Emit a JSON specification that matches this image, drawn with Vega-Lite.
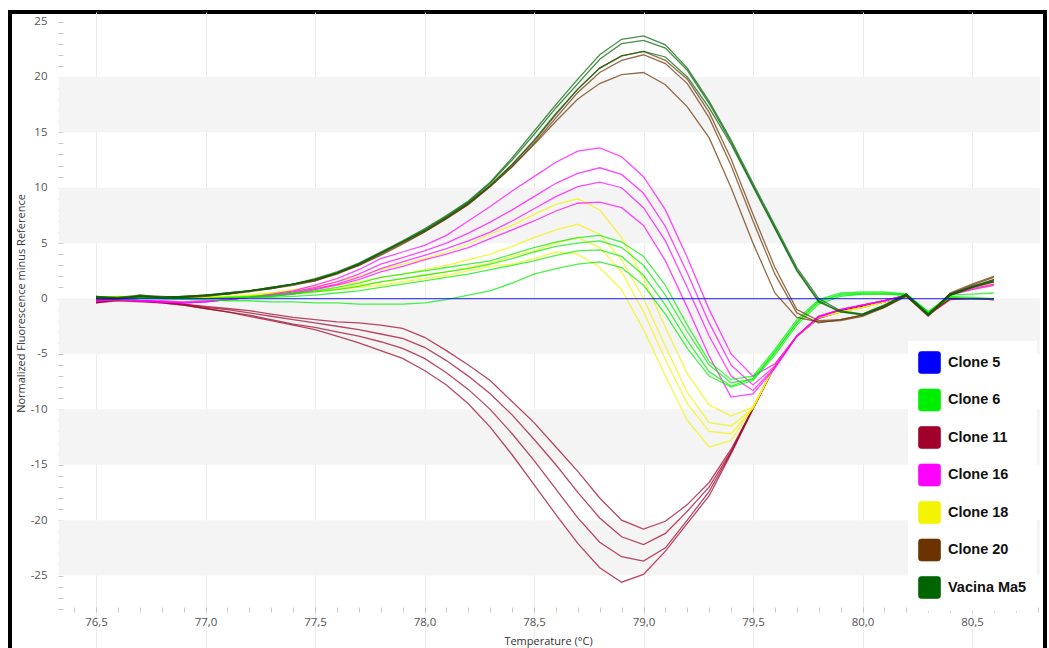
{
"$schema": "https://vega.github.io/schema/vega-lite/v6.json",
"width": 1035,
"height": 638,
"autosize": {"type": "none"},
"padding": {"left": 10, "top": 12, "right": 4, "bottom": 0},
"background": "white",
"config": {"view": {"fill": "white", "stroke": "black", "strokeWidth": 4}},
"datasets": {
"bands": [{"lo":15,"hi":20},{"lo":5,"hi":10},{"lo":-5,"hi":0},{"lo":-15,"hi":-10},{"lo":-25,"hi":-20}],
"curves": [{"c":"r1","g":"Clone 11"},{"c":"r2","g":"Clone 11"},{"c":"r3","g":"Clone 11"},{"c":"r4","g":"Clone 11"},{"c":"y1","g":"Clone 18"},{"c":"y2","g":"Clone 18"},{"c":"y3","g":"Clone 18"},{"c":"y4","g":"Clone 18"},{"c":"m1","g":"Clone 16"},{"c":"m2","g":"Clone 16"},{"c":"m3","g":"Clone 16"},{"c":"m4","g":"Clone 16"},{"c":"g1","g":"Clone 6"},{"c":"g2","g":"Clone 6"},{"c":"g3","g":"Clone 6"},{"c":"g4","g":"Clone 6"},{"c":"n1","g":"Clone 20"},{"c":"n2","g":"Clone 20"},{"c":"n3","g":"Clone 20"},{"c":"v1","g":"Vacina Ma5"},{"c":"v2","g":"Vacina Ma5"},{"c":"v3","g":"Vacina Ma5"},{"c":"b1","g":"Clone 5"}],
"melt": [
{"c":"r1","t":76.5,"v":-0.3},{"c":"r1","t":76.6,"v":-0.1},{"c":"r1","t":76.7,"v":-0.2},{"c":"r1","t":76.8,"v":-0.3},{"c":"r1","t":76.9,"v":-0.5},{"c":"r1","t":77,"v":-0.7},{"c":"r1","t":77.1,"v":-0.9},{"c":"r1","t":77.2,"v":-1.1},{"c":"r1","t":77.3,"v":-1.4},{"c":"r1","t":77.4,"v":-1.7},{"c":"r1","t":77.5,"v":-1.9},{"c":"r1","t":77.6,"v":-2.1},{"c":"r1","t":77.7,"v":-2.2},{"c":"r1","t":77.8,"v":-2.4},{"c":"r1","t":77.9,"v":-2.7},{"c":"r1","t":78,"v":-3.5},{"c":"r1","t":78.1,"v":-4.7},{"c":"r1","t":78.2,"v":-6},{"c":"r1","t":78.3,"v":-7.4},{"c":"r1","t":78.4,"v":-9.3},{"c":"r1","t":78.5,"v":-11.2},{"c":"r1","t":78.6,"v":-13.4},{"c":"r1","t":78.7,"v":-15.6},{"c":"r1","t":78.8,"v":-18},{"c":"r1","t":78.9,"v":-20},{"c":"r1","t":79,"v":-20.8},{"c":"r1","t":79.1,"v":-20.1},{"c":"r1","t":79.2,"v":-18.6},{"c":"r1","t":79.3,"v":-16.6},{"c":"r1","t":79.4,"v":-13.6},{"c":"r1","t":79.5,"v":-9.9},{"c":"r1","t":79.6,"v":-6},{"c":"r1","t":79.7,"v":-3.4},{"c":"r1","t":79.8,"v":-1.7},{"c":"r1","t":79.9,"v":-1.1},{"c":"r1","t":80,"v":-0.7},{"c":"r1","t":80.1,"v":-0.3},{"c":"r1","t":80.2,"v":0.3},{"c":"r1","t":80.3,"v":-1.4},{"c":"r1","t":80.4,"v":0},{"c":"r1","t":80.5,"v":0},{"c":"r1","t":80.6,"v":0},
{"c":"r2","t":76.5,"v":-0.4},{"c":"r2","t":76.6,"v":-0.1},{"c":"r2","t":76.7,"v":-0.2},{"c":"r2","t":76.8,"v":-0.3},{"c":"r2","t":76.9,"v":-0.5},{"c":"r2","t":77,"v":-0.8},{"c":"r2","t":77.1,"v":-1},{"c":"r2","t":77.2,"v":-1.3},{"c":"r2","t":77.3,"v":-1.6},{"c":"r2","t":77.4,"v":-1.9},{"c":"r2","t":77.5,"v":-2.2},{"c":"r2","t":77.6,"v":-2.5},{"c":"r2","t":77.7,"v":-2.8},{"c":"r2","t":77.8,"v":-3.2},{"c":"r2","t":77.9,"v":-3.6},{"c":"r2","t":78,"v":-4.4},{"c":"r2","t":78.1,"v":-5.6},{"c":"r2","t":78.2,"v":-7},{"c":"r2","t":78.3,"v":-8.6},{"c":"r2","t":78.4,"v":-10.5},{"c":"r2","t":78.5,"v":-12.7},{"c":"r2","t":78.6,"v":-15},{"c":"r2","t":78.7,"v":-17.5},{"c":"r2","t":78.8,"v":-19.8},{"c":"r2","t":78.9,"v":-21.5},{"c":"r2","t":79,"v":-22.2},{"c":"r2","t":79.1,"v":-21.2},{"c":"r2","t":79.2,"v":-19.2},{"c":"r2","t":79.3,"v":-17},{"c":"r2","t":79.4,"v":-13.8},{"c":"r2","t":79.5,"v":-9.9},{"c":"r2","t":79.6,"v":-6},{"c":"r2","t":79.7,"v":-3.4},{"c":"r2","t":79.8,"v":-1.7},{"c":"r2","t":79.9,"v":-1.1},{"c":"r2","t":80,"v":-0.7},{"c":"r2","t":80.1,"v":-0.3},{"c":"r2","t":80.2,"v":0.3},{"c":"r2","t":80.3,"v":-1.4},{"c":"r2","t":80.4,"v":0},{"c":"r2","t":80.5,"v":0},{"c":"r2","t":80.6,"v":-0.1},
{"c":"r3","t":76.5,"v":-0.3},{"c":"r3","t":76.6,"v":-0.1},{"c":"r3","t":76.7,"v":-0.2},{"c":"r3","t":76.8,"v":-0.4},{"c":"r3","t":76.9,"v":-0.6},{"c":"r3","t":77,"v":-0.9},{"c":"r3","t":77.1,"v":-1.2},{"c":"r3","t":77.2,"v":-1.5},{"c":"r3","t":77.3,"v":-1.9},{"c":"r3","t":77.4,"v":-2.3},{"c":"r3","t":77.5,"v":-2.6},{"c":"r3","t":77.6,"v":-3},{"c":"r3","t":77.7,"v":-3.4},{"c":"r3","t":77.8,"v":-3.9},{"c":"r3","t":77.9,"v":-4.5},{"c":"r3","t":78,"v":-5.4},{"c":"r3","t":78.1,"v":-6.7},{"c":"r3","t":78.2,"v":-8.2},{"c":"r3","t":78.3,"v":-10},{"c":"r3","t":78.4,"v":-12.2},{"c":"r3","t":78.5,"v":-14.6},{"c":"r3","t":78.6,"v":-17.2},{"c":"r3","t":78.7,"v":-19.8},{"c":"r3","t":78.8,"v":-22},{"c":"r3","t":78.9,"v":-23.3},{"c":"r3","t":79,"v":-23.7},{"c":"r3","t":79.1,"v":-22.5},{"c":"r3","t":79.2,"v":-20},{"c":"r3","t":79.3,"v":-17.4},{"c":"r3","t":79.4,"v":-13.9},{"c":"r3","t":79.5,"v":-9.9},{"c":"r3","t":79.6,"v":-6},{"c":"r3","t":79.7,"v":-3.4},{"c":"r3","t":79.8,"v":-1.7},{"c":"r3","t":79.9,"v":-1.1},{"c":"r3","t":80,"v":-0.7},{"c":"r3","t":80.1,"v":-0.3},{"c":"r3","t":80.2,"v":0.3},{"c":"r3","t":80.3,"v":-1.4},{"c":"r3","t":80.4,"v":0},{"c":"r3","t":80.5,"v":0},{"c":"r3","t":80.6,"v":-0.1},
{"c":"r4","t":76.5,"v":-0.4},{"c":"r4","t":76.6,"v":-0.2},{"c":"r4","t":76.7,"v":-0.3},{"c":"r4","t":76.8,"v":-0.4},{"c":"r4","t":76.9,"v":-0.6},{"c":"r4","t":77,"v":-0.9},{"c":"r4","t":77.1,"v":-1.2},{"c":"r4","t":77.2,"v":-1.6},{"c":"r4","t":77.3,"v":-2},{"c":"r4","t":77.4,"v":-2.4},{"c":"r4","t":77.5,"v":-2.8},{"c":"r4","t":77.6,"v":-3.4},{"c":"r4","t":77.7,"v":-4},{"c":"r4","t":77.8,"v":-4.7},{"c":"r4","t":77.9,"v":-5.4},{"c":"r4","t":78,"v":-6.5},{"c":"r4","t":78.1,"v":-7.8},{"c":"r4","t":78.2,"v":-9.5},{"c":"r4","t":78.3,"v":-11.6},{"c":"r4","t":78.4,"v":-14.1},{"c":"r4","t":78.5,"v":-16.8},{"c":"r4","t":78.6,"v":-19.5},{"c":"r4","t":78.7,"v":-22.1},{"c":"r4","t":78.8,"v":-24.3},{"c":"r4","t":78.9,"v":-25.6},{"c":"r4","t":79,"v":-24.9},{"c":"r4","t":79.1,"v":-22.8},{"c":"r4","t":79.2,"v":-20.3},{"c":"r4","t":79.3,"v":-17.8},{"c":"r4","t":79.4,"v":-14},{"c":"r4","t":79.5,"v":-10},{"c":"r4","t":79.6,"v":-6.1},{"c":"r4","t":79.7,"v":-3.4},{"c":"r4","t":79.8,"v":-1.8},{"c":"r4","t":79.9,"v":-1.2},{"c":"r4","t":80,"v":-0.8},{"c":"r4","t":80.1,"v":-0.3},{"c":"r4","t":80.2,"v":0.2},{"c":"r4","t":80.3,"v":-1.5},{"c":"r4","t":80.4,"v":-0.1},{"c":"r4","t":80.5,"v":0},{"c":"r4","t":80.6,"v":-0.1},
{"c":"y1","t":76.5,"v":0},{"c":"y1","t":76.6,"v":0.2},{"c":"y1","t":76.7,"v":0.1},{"c":"y1","t":76.8,"v":0},{"c":"y1","t":76.9,"v":0},{"c":"y1","t":77,"v":0.1},{"c":"y1","t":77.1,"v":0.2},{"c":"y1","t":77.2,"v":0.3},{"c":"y1","t":77.3,"v":0.5},{"c":"y1","t":77.4,"v":0.8},{"c":"y1","t":77.5,"v":1.1},{"c":"y1","t":77.6,"v":1.5},{"c":"y1","t":77.7,"v":2},{"c":"y1","t":77.8,"v":2.6},{"c":"y1","t":77.9,"v":3.1},{"c":"y1","t":78,"v":3.6},{"c":"y1","t":78.1,"v":4.2},{"c":"y1","t":78.2,"v":4.9},{"c":"y1","t":78.3,"v":5.8},{"c":"y1","t":78.4,"v":6.6},{"c":"y1","t":78.5,"v":7.6},{"c":"y1","t":78.6,"v":8.5},{"c":"y1","t":78.7,"v":9},{"c":"y1","t":78.8,"v":8},{"c":"y1","t":78.9,"v":5.5},{"c":"y1","t":79,"v":1.8},{"c":"y1","t":79.1,"v":-2.6},{"c":"y1","t":79.2,"v":-6.8},{"c":"y1","t":79.3,"v":-9.6},{"c":"y1","t":79.4,"v":-10.6},{"c":"y1","t":79.5,"v":-9.8},{"c":"y1","t":79.6,"v":-6},{"c":"y1","t":79.7,"v":-3.4},{"c":"y1","t":79.8,"v":-1.7},{"c":"y1","t":79.9,"v":-1.2},{"c":"y1","t":80,"v":-0.8},{"c":"y1","t":80.1,"v":-0.3},{"c":"y1","t":80.2,"v":0.3},{"c":"y1","t":80.3,"v":-1.4},{"c":"y1","t":80.4,"v":0.4},{"c":"y1","t":80.5,"v":1},{"c":"y1","t":80.6,"v":1.5},
{"c":"y2","t":76.5,"v":0.1},{"c":"y2","t":76.6,"v":0.2},{"c":"y2","t":76.7,"v":0.1},{"c":"y2","t":76.8,"v":0.1},{"c":"y2","t":76.9,"v":0.1},{"c":"y2","t":77,"v":0.1},{"c":"y2","t":77.1,"v":0.2},{"c":"y2","t":77.2,"v":0.3},{"c":"y2","t":77.3,"v":0.5},{"c":"y2","t":77.4,"v":0.7},{"c":"y2","t":77.5,"v":0.9},{"c":"y2","t":77.6,"v":1.2},{"c":"y2","t":77.7,"v":1.5},{"c":"y2","t":77.8,"v":1.9},{"c":"y2","t":77.9,"v":2.2},{"c":"y2","t":78,"v":2.6},{"c":"y2","t":78.1,"v":3},{"c":"y2","t":78.2,"v":3.5},{"c":"y2","t":78.3,"v":4},{"c":"y2","t":78.4,"v":4.7},{"c":"y2","t":78.5,"v":5.5},{"c":"y2","t":78.6,"v":6.2},{"c":"y2","t":78.7,"v":6.7},{"c":"y2","t":78.8,"v":5.8},{"c":"y2","t":78.9,"v":3.5},{"c":"y2","t":79,"v":0},{"c":"y2","t":79.1,"v":-4.3},{"c":"y2","t":79.2,"v":-8.5},{"c":"y2","t":79.3,"v":-11.2},{"c":"y2","t":79.4,"v":-11.5},{"c":"y2","t":79.5,"v":-9.9},{"c":"y2","t":79.6,"v":-6},{"c":"y2","t":79.7,"v":-3.4},{"c":"y2","t":79.8,"v":-1.7},{"c":"y2","t":79.9,"v":-1.2},{"c":"y2","t":80,"v":-0.8},{"c":"y2","t":80.1,"v":-0.3},{"c":"y2","t":80.2,"v":0.3},{"c":"y2","t":80.3,"v":-1.4},{"c":"y2","t":80.4,"v":0.4},{"c":"y2","t":80.5,"v":1.1},{"c":"y2","t":80.6,"v":1.6},
{"c":"y3","t":76.5,"v":0},{"c":"y3","t":76.6,"v":0.1},{"c":"y3","t":76.7,"v":0.1},{"c":"y3","t":76.8,"v":0},{"c":"y3","t":76.9,"v":0.1},{"c":"y3","t":77,"v":0.1},{"c":"y3","t":77.1,"v":0.1},{"c":"y3","t":77.2,"v":0.2},{"c":"y3","t":77.3,"v":0.4},{"c":"y3","t":77.4,"v":0.5},{"c":"y3","t":77.5,"v":0.7},{"c":"y3","t":77.6,"v":0.9},{"c":"y3","t":77.7,"v":1.2},{"c":"y3","t":77.8,"v":1.5},{"c":"y3","t":77.9,"v":1.8},{"c":"y3","t":78,"v":2.1},{"c":"y3","t":78.1,"v":2.4},{"c":"y3","t":78.2,"v":2.8},{"c":"y3","t":78.3,"v":3.2},{"c":"y3","t":78.4,"v":3.8},{"c":"y3","t":78.5,"v":4.3},{"c":"y3","t":78.6,"v":5},{"c":"y3","t":78.7,"v":5.5},{"c":"y3","t":78.8,"v":4.6},{"c":"y3","t":78.9,"v":2.4},{"c":"y3","t":79,"v":-1.2},{"c":"y3","t":79.1,"v":-5.5},{"c":"y3","t":79.2,"v":-9.5},{"c":"y3","t":79.3,"v":-12},{"c":"y3","t":79.4,"v":-12.2},{"c":"y3","t":79.5,"v":-9.9},{"c":"y3","t":79.6,"v":-6},{"c":"y3","t":79.7,"v":-3.4},{"c":"y3","t":79.8,"v":-1.7},{"c":"y3","t":79.9,"v":-1.2},{"c":"y3","t":80,"v":-0.8},{"c":"y3","t":80.1,"v":-0.3},{"c":"y3","t":80.2,"v":0.3},{"c":"y3","t":80.3,"v":-1.4},{"c":"y3","t":80.4,"v":0.3},{"c":"y3","t":80.5,"v":0.9},{"c":"y3","t":80.6,"v":1.4},
{"c":"y4","t":76.5,"v":0.1},{"c":"y4","t":76.6,"v":0.1},{"c":"y4","t":76.7,"v":0},{"c":"y4","t":76.8,"v":0},{"c":"y4","t":76.9,"v":0},{"c":"y4","t":77,"v":0.1},{"c":"y4","t":77.1,"v":0.1},{"c":"y4","t":77.2,"v":0.2},{"c":"y4","t":77.3,"v":0.3},{"c":"y4","t":77.4,"v":0.4},{"c":"y4","t":77.5,"v":0.6},{"c":"y4","t":77.6,"v":0.8},{"c":"y4","t":77.7,"v":1},{"c":"y4","t":77.8,"v":1.2},{"c":"y4","t":77.9,"v":1.5},{"c":"y4","t":78,"v":1.8},{"c":"y4","t":78.1,"v":2.1},{"c":"y4","t":78.2,"v":2.5},{"c":"y4","t":78.3,"v":2.9},{"c":"y4","t":78.4,"v":3.1},{"c":"y4","t":78.5,"v":3.6},{"c":"y4","t":78.6,"v":4.2},{"c":"y4","t":78.7,"v":4},{"c":"y4","t":78.8,"v":2.8},{"c":"y4","t":78.9,"v":0.8},{"c":"y4","t":79,"v":-2.8},{"c":"y4","t":79.1,"v":-7},{"c":"y4","t":79.2,"v":-11},{"c":"y4","t":79.3,"v":-13.4},{"c":"y4","t":79.4,"v":-12.8},{"c":"y4","t":79.5,"v":-9.8},{"c":"y4","t":79.6,"v":-6},{"c":"y4","t":79.7,"v":-3.4},{"c":"y4","t":79.8,"v":-1.7},{"c":"y4","t":79.9,"v":-1.2},{"c":"y4","t":80,"v":-0.8},{"c":"y4","t":80.1,"v":-0.3},{"c":"y4","t":80.2,"v":0.3},{"c":"y4","t":80.3,"v":-1.4},{"c":"y4","t":80.4,"v":0.3},{"c":"y4","t":80.5,"v":0.8},{"c":"y4","t":80.6,"v":1.2},
{"c":"m1","t":76.5,"v":-0.2},{"c":"m1","t":76.6,"v":-0.1},{"c":"m1","t":76.7,"v":-0.2},{"c":"m1","t":76.8,"v":-0.3},{"c":"m1","t":76.9,"v":-0.4},{"c":"m1","t":77,"v":-0.3},{"c":"m1","t":77.1,"v":-0.1},{"c":"m1","t":77.2,"v":0.1},{"c":"m1","t":77.3,"v":0.4},{"c":"m1","t":77.4,"v":0.7},{"c":"m1","t":77.5,"v":1.2},{"c":"m1","t":77.6,"v":1.8},{"c":"m1","t":77.7,"v":2.6},{"c":"m1","t":77.8,"v":3.6},{"c":"m1","t":77.9,"v":4.2},{"c":"m1","t":78,"v":4.8},{"c":"m1","t":78.1,"v":5.7},{"c":"m1","t":78.2,"v":7},{"c":"m1","t":78.3,"v":8.3},{"c":"m1","t":78.4,"v":9.7},{"c":"m1","t":78.5,"v":11},{"c":"m1","t":78.6,"v":12.3},{"c":"m1","t":78.7,"v":13.3},{"c":"m1","t":78.8,"v":13.6},{"c":"m1","t":78.9,"v":12.8},{"c":"m1","t":79,"v":11},{"c":"m1","t":79.1,"v":8},{"c":"m1","t":79.2,"v":3.7},{"c":"m1","t":79.3,"v":-1},{"c":"m1","t":79.4,"v":-5},{"c":"m1","t":79.5,"v":-7},{"c":"m1","t":79.6,"v":-5.9},{"c":"m1","t":79.7,"v":-3.4},{"c":"m1","t":79.8,"v":-1.6},{"c":"m1","t":79.9,"v":-1},{"c":"m1","t":80,"v":-0.6},{"c":"m1","t":80.1,"v":-0.2},{"c":"m1","t":80.2,"v":0.3},{"c":"m1","t":80.3,"v":-1.4},{"c":"m1","t":80.4,"v":0.4},{"c":"m1","t":80.5,"v":1},{"c":"m1","t":80.6,"v":1.5},
{"c":"m2","t":76.5,"v":-0.2},{"c":"m2","t":76.6,"v":-0.1},{"c":"m2","t":76.7,"v":-0.2},{"c":"m2","t":76.8,"v":-0.3},{"c":"m2","t":76.9,"v":-0.4},{"c":"m2","t":77,"v":-0.3},{"c":"m2","t":77.1,"v":-0.1},{"c":"m2","t":77.2,"v":0.1},{"c":"m2","t":77.3,"v":0.3},{"c":"m2","t":77.4,"v":0.6},{"c":"m2","t":77.5,"v":1},{"c":"m2","t":77.6,"v":1.5},{"c":"m2","t":77.7,"v":2.2},{"c":"m2","t":77.8,"v":3.1},{"c":"m2","t":77.9,"v":3.7},{"c":"m2","t":78,"v":4.3},{"c":"m2","t":78.1,"v":5},{"c":"m2","t":78.2,"v":5.9},{"c":"m2","t":78.3,"v":6.9},{"c":"m2","t":78.4,"v":8},{"c":"m2","t":78.5,"v":9.2},{"c":"m2","t":78.6,"v":10.4},{"c":"m2","t":78.7,"v":11.3},{"c":"m2","t":78.8,"v":11.8},{"c":"m2","t":78.9,"v":11.2},{"c":"m2","t":79,"v":9.5},{"c":"m2","t":79.1,"v":6.5},{"c":"m2","t":79.2,"v":2.3},{"c":"m2","t":79.3,"v":-2.2},{"c":"m2","t":79.4,"v":-6},{"c":"m2","t":79.5,"v":-7.8},{"c":"m2","t":79.6,"v":-6.1},{"c":"m2","t":79.7,"v":-3.4},{"c":"m2","t":79.8,"v":-1.6},{"c":"m2","t":79.9,"v":-1},{"c":"m2","t":80,"v":-0.6},{"c":"m2","t":80.1,"v":-0.2},{"c":"m2","t":80.2,"v":0.3},{"c":"m2","t":80.3,"v":-1.4},{"c":"m2","t":80.4,"v":0.4},{"c":"m2","t":80.5,"v":1.1},{"c":"m2","t":80.6,"v":1.6},
{"c":"m3","t":76.5,"v":-0.1},{"c":"m3","t":76.6,"v":-0.1},{"c":"m3","t":76.7,"v":-0.2},{"c":"m3","t":76.8,"v":-0.3},{"c":"m3","t":76.9,"v":-0.4},{"c":"m3","t":77,"v":-0.3},{"c":"m3","t":77.1,"v":-0.1},{"c":"m3","t":77.2,"v":0.1},{"c":"m3","t":77.3,"v":0.3},{"c":"m3","t":77.4,"v":0.5},{"c":"m3","t":77.5,"v":0.9},{"c":"m3","t":77.6,"v":1.3},{"c":"m3","t":77.7,"v":1.9},{"c":"m3","t":77.8,"v":2.7},{"c":"m3","t":77.9,"v":3.3},{"c":"m3","t":78,"v":3.9},{"c":"m3","t":78.1,"v":4.5},{"c":"m3","t":78.2,"v":5.2},{"c":"m3","t":78.3,"v":6},{"c":"m3","t":78.4,"v":7},{"c":"m3","t":78.5,"v":8.1},{"c":"m3","t":78.6,"v":9.2},{"c":"m3","t":78.7,"v":10.1},{"c":"m3","t":78.8,"v":10.5},{"c":"m3","t":78.9,"v":10},{"c":"m3","t":79,"v":8.2},{"c":"m3","t":79.1,"v":5.2},{"c":"m3","t":79.2,"v":1},{"c":"m3","t":79.3,"v":-3.4},{"c":"m3","t":79.4,"v":-7},{"c":"m3","t":79.5,"v":-8.3},{"c":"m3","t":79.6,"v":-6.2},{"c":"m3","t":79.7,"v":-3.4},{"c":"m3","t":79.8,"v":-1.6},{"c":"m3","t":79.9,"v":-1},{"c":"m3","t":80,"v":-0.6},{"c":"m3","t":80.1,"v":-0.2},{"c":"m3","t":80.2,"v":0.3},{"c":"m3","t":80.3,"v":-1.4},{"c":"m3","t":80.4,"v":0.3},{"c":"m3","t":80.5,"v":0.9},{"c":"m3","t":80.6,"v":1.3},
{"c":"m4","t":76.5,"v":-0.2},{"c":"m4","t":76.6,"v":-0.1},{"c":"m4","t":76.7,"v":-0.2},{"c":"m4","t":76.8,"v":-0.2},{"c":"m4","t":76.9,"v":-0.3},{"c":"m4","t":77,"v":-0.2},{"c":"m4","t":77.1,"v":-0.1},{"c":"m4","t":77.2,"v":0.1},{"c":"m4","t":77.3,"v":0.2},{"c":"m4","t":77.4,"v":0.4},{"c":"m4","t":77.5,"v":0.8},{"c":"m4","t":77.6,"v":1.2},{"c":"m4","t":77.7,"v":1.7},{"c":"m4","t":77.8,"v":2.4},{"c":"m4","t":77.9,"v":2.9},{"c":"m4","t":78,"v":3.5},{"c":"m4","t":78.1,"v":4},{"c":"m4","t":78.2,"v":4.6},{"c":"m4","t":78.3,"v":5.4},{"c":"m4","t":78.4,"v":6.2},{"c":"m4","t":78.5,"v":7},{"c":"m4","t":78.6,"v":7.9},{"c":"m4","t":78.7,"v":8.6},{"c":"m4","t":78.8,"v":8.7},{"c":"m4","t":78.9,"v":8.2},{"c":"m4","t":79,"v":6.6},{"c":"m4","t":79.1,"v":3.4},{"c":"m4","t":79.2,"v":-0.8},{"c":"m4","t":79.3,"v":-5.2},{"c":"m4","t":79.4,"v":-8.9},{"c":"m4","t":79.5,"v":-8.6},{"c":"m4","t":79.6,"v":-6.3},{"c":"m4","t":79.7,"v":-3.4},{"c":"m4","t":79.8,"v":-1.7},{"c":"m4","t":79.9,"v":-1},{"c":"m4","t":80,"v":-0.6},{"c":"m4","t":80.1,"v":-0.2},{"c":"m4","t":80.2,"v":0.3},{"c":"m4","t":80.3,"v":-1.4},{"c":"m4","t":80.4,"v":0.3},{"c":"m4","t":80.5,"v":0.8},{"c":"m4","t":80.6,"v":1.2},
{"c":"g1","t":76.5,"v":0.2},{"c":"g1","t":76.6,"v":0},{"c":"g1","t":76.7,"v":0.1},{"c":"g1","t":76.8,"v":0},{"c":"g1","t":76.9,"v":0},{"c":"g1","t":77,"v":0},{"c":"g1","t":77.1,"v":0.1},{"c":"g1","t":77.2,"v":0.2},{"c":"g1","t":77.3,"v":0.3},{"c":"g1","t":77.4,"v":0.5},{"c":"g1","t":77.5,"v":0.7},{"c":"g1","t":77.6,"v":1},{"c":"g1","t":77.7,"v":1.4},{"c":"g1","t":77.8,"v":1.9},{"c":"g1","t":77.9,"v":2.2},{"c":"g1","t":78,"v":2.5},{"c":"g1","t":78.1,"v":2.8},{"c":"g1","t":78.2,"v":3.1},{"c":"g1","t":78.3,"v":3.4},{"c":"g1","t":78.4,"v":4},{"c":"g1","t":78.5,"v":4.6},{"c":"g1","t":78.6,"v":5.1},{"c":"g1","t":78.7,"v":5.5},{"c":"g1","t":78.8,"v":5.7},{"c":"g1","t":78.9,"v":5.1},{"c":"g1","t":79,"v":3.8},{"c":"g1","t":79.1,"v":1.2},{"c":"g1","t":79.2,"v":-2.4},{"c":"g1","t":79.3,"v":-5.7},{"c":"g1","t":79.4,"v":-7.3},{"c":"g1","t":79.5,"v":-7},{"c":"g1","t":79.6,"v":-4.6},{"c":"g1","t":79.7,"v":-1.9},{"c":"g1","t":79.8,"v":-0.1},{"c":"g1","t":79.9,"v":0.5},{"c":"g1","t":80,"v":0.6},{"c":"g1","t":80.1,"v":0.6},{"c":"g1","t":80.2,"v":0.4},{"c":"g1","t":80.3,"v":-1.2},{"c":"g1","t":80.4,"v":0.2},{"c":"g1","t":80.5,"v":0.1},{"c":"g1","t":80.6,"v":0},
{"c":"g2","t":76.5,"v":0.1},{"c":"g2","t":76.6,"v":0},{"c":"g2","t":76.7,"v":0.1},{"c":"g2","t":76.8,"v":0},{"c":"g2","t":76.9,"v":0},{"c":"g2","t":77,"v":0},{"c":"g2","t":77.1,"v":0.1},{"c":"g2","t":77.2,"v":0.1},{"c":"g2","t":77.3,"v":0.2},{"c":"g2","t":77.4,"v":0.4},{"c":"g2","t":77.5,"v":0.6},{"c":"g2","t":77.6,"v":0.8},{"c":"g2","t":77.7,"v":1.1},{"c":"g2","t":77.8,"v":1.5},{"c":"g2","t":77.9,"v":1.8},{"c":"g2","t":78,"v":2.1},{"c":"g2","t":78.1,"v":2.4},{"c":"g2","t":78.2,"v":2.7},{"c":"g2","t":78.3,"v":3.1},{"c":"g2","t":78.4,"v":3.6},{"c":"g2","t":78.5,"v":4.2},{"c":"g2","t":78.6,"v":4.7},{"c":"g2","t":78.7,"v":5},{"c":"g2","t":78.8,"v":5.2},{"c":"g2","t":78.9,"v":4.6},{"c":"g2","t":79,"v":3},{"c":"g2","t":79.1,"v":0.3},{"c":"g2","t":79.2,"v":-3},{"c":"g2","t":79.3,"v":-6},{"c":"g2","t":79.4,"v":-7.6},{"c":"g2","t":79.5,"v":-7.3},{"c":"g2","t":79.6,"v":-4.9},{"c":"g2","t":79.7,"v":-2.1},{"c":"g2","t":79.8,"v":-0.2},{"c":"g2","t":79.9,"v":0.4},{"c":"g2","t":80,"v":0.5},{"c":"g2","t":80.1,"v":0.5},{"c":"g2","t":80.2,"v":0.4},{"c":"g2","t":80.3,"v":-1.2},{"c":"g2","t":80.4,"v":0.3},{"c":"g2","t":80.5,"v":0.4},{"c":"g2","t":80.6,"v":0.5},
{"c":"g3","t":76.5,"v":0.1},{"c":"g3","t":76.6,"v":0},{"c":"g3","t":76.7,"v":0},{"c":"g3","t":76.8,"v":0},{"c":"g3","t":76.9,"v":0},{"c":"g3","t":77,"v":0},{"c":"g3","t":77.1,"v":0},{"c":"g3","t":77.2,"v":0.1},{"c":"g3","t":77.3,"v":0.1},{"c":"g3","t":77.4,"v":0.2},{"c":"g3","t":77.5,"v":0.3},{"c":"g3","t":77.6,"v":0.5},{"c":"g3","t":77.7,"v":0.7},{"c":"g3","t":77.8,"v":1},{"c":"g3","t":77.9,"v":1.3},{"c":"g3","t":78,"v":1.6},{"c":"g3","t":78.1,"v":1.9},{"c":"g3","t":78.2,"v":2.2},{"c":"g3","t":78.3,"v":2.6},{"c":"g3","t":78.4,"v":3},{"c":"g3","t":78.5,"v":3.4},{"c":"g3","t":78.6,"v":3.9},{"c":"g3","t":78.7,"v":4.3},{"c":"g3","t":78.8,"v":4.4},{"c":"g3","t":78.9,"v":3.8},{"c":"g3","t":79,"v":2.1},{"c":"g3","t":79.1,"v":-0.6},{"c":"g3","t":79.2,"v":-3.8},{"c":"g3","t":79.3,"v":-6.6},{"c":"g3","t":79.4,"v":-7.9},{"c":"g3","t":79.5,"v":-7.2},{"c":"g3","t":79.6,"v":-4.8},{"c":"g3","t":79.7,"v":-2.2},{"c":"g3","t":79.8,"v":-0.3},{"c":"g3","t":79.9,"v":0.3},{"c":"g3","t":80,"v":0.4},{"c":"g3","t":80.1,"v":0.4},{"c":"g3","t":80.2,"v":0.3},{"c":"g3","t":80.3,"v":-1.3},{"c":"g3","t":80.4,"v":0.1},{"c":"g3","t":80.5,"v":0},{"c":"g3","t":80.6,"v":0},
{"c":"g4","t":76.5,"v":0.1},{"c":"g4","t":76.6,"v":0},{"c":"g4","t":76.7,"v":0},{"c":"g4","t":76.8,"v":0},{"c":"g4","t":76.9,"v":-0.1},{"c":"g4","t":77,"v":-0.1},{"c":"g4","t":77.1,"v":-0.2},{"c":"g4","t":77.2,"v":-0.2},{"c":"g4","t":77.3,"v":-0.3},{"c":"g4","t":77.4,"v":-0.3},{"c":"g4","t":77.5,"v":-0.4},{"c":"g4","t":77.6,"v":-0.4},{"c":"g4","t":77.7,"v":-0.5},{"c":"g4","t":77.8,"v":-0.5},{"c":"g4","t":77.9,"v":-0.5},{"c":"g4","t":78,"v":-0.4},{"c":"g4","t":78.1,"v":-0.1},{"c":"g4","t":78.2,"v":0.3},{"c":"g4","t":78.3,"v":0.7},{"c":"g4","t":78.4,"v":1.4},{"c":"g4","t":78.5,"v":2.2},{"c":"g4","t":78.6,"v":2.7},{"c":"g4","t":78.7,"v":3.1},{"c":"g4","t":78.8,"v":3.3},{"c":"g4","t":78.9,"v":2.8},{"c":"g4","t":79,"v":1.2},{"c":"g4","t":79.1,"v":-1.4},{"c":"g4","t":79.2,"v":-4.5},{"c":"g4","t":79.3,"v":-7},{"c":"g4","t":79.4,"v":-8},{"c":"g4","t":79.5,"v":-7.4},{"c":"g4","t":79.6,"v":-5.1},{"c":"g4","t":79.7,"v":-2.4},{"c":"g4","t":79.8,"v":-0.5},{"c":"g4","t":79.9,"v":0.2},{"c":"g4","t":80,"v":0.4},{"c":"g4","t":80.1,"v":0.4},{"c":"g4","t":80.2,"v":0.3},{"c":"g4","t":80.3,"v":-1.3},{"c":"g4","t":80.4,"v":0.1},{"c":"g4","t":80.5,"v":0},{"c":"g4","t":80.6,"v":0},
{"c":"n1","t":76.5,"v":0},{"c":"n1","t":76.6,"v":-0.1},{"c":"n1","t":76.7,"v":0.3},{"c":"n1","t":76.8,"v":0.2},{"c":"n1","t":76.9,"v":0.1},{"c":"n1","t":77,"v":0.2},{"c":"n1","t":77.1,"v":0.5},{"c":"n1","t":77.2,"v":0.7},{"c":"n1","t":77.3,"v":1},{"c":"n1","t":77.4,"v":1.3},{"c":"n1","t":77.5,"v":1.7},{"c":"n1","t":77.6,"v":2.3},{"c":"n1","t":77.7,"v":3.1},{"c":"n1","t":77.8,"v":4.1},{"c":"n1","t":77.9,"v":5.1},{"c":"n1","t":78,"v":6.1},{"c":"n1","t":78.1,"v":7.3},{"c":"n1","t":78.2,"v":8.6},{"c":"n1","t":78.3,"v":10.2},{"c":"n1","t":78.4,"v":12.1},{"c":"n1","t":78.5,"v":14.2},{"c":"n1","t":78.6,"v":16.6},{"c":"n1","t":78.7,"v":18.9},{"c":"n1","t":78.8,"v":20.8},{"c":"n1","t":78.9,"v":21.9},{"c":"n1","t":79,"v":22.3},{"c":"n1","t":79.1,"v":21.5},{"c":"n1","t":79.2,"v":19.8},{"c":"n1","t":79.3,"v":16.8},{"c":"n1","t":79.4,"v":12.6},{"c":"n1","t":79.5,"v":7.6},{"c":"n1","t":79.6,"v":2.8},{"c":"n1","t":79.7,"v":-1},{"c":"n1","t":79.8,"v":-2},{"c":"n1","t":79.9,"v":-1.9},{"c":"n1","t":80,"v":-1.5},{"c":"n1","t":80.1,"v":-0.7},{"c":"n1","t":80.2,"v":0.3},{"c":"n1","t":80.3,"v":-1.5},{"c":"n1","t":80.4,"v":0.5},{"c":"n1","t":80.5,"v":1.3},{"c":"n1","t":80.6,"v":2},
{"c":"n2","t":76.5,"v":0.1},{"c":"n2","t":76.6,"v":0},{"c":"n2","t":76.7,"v":0.2},{"c":"n2","t":76.8,"v":0.1},{"c":"n2","t":76.9,"v":0.2},{"c":"n2","t":77,"v":0.3},{"c":"n2","t":77.1,"v":0.4},{"c":"n2","t":77.2,"v":0.7},{"c":"n2","t":77.3,"v":0.9},{"c":"n2","t":77.4,"v":1.3},{"c":"n2","t":77.5,"v":1.6},{"c":"n2","t":77.6,"v":2.3},{"c":"n2","t":77.7,"v":3},{"c":"n2","t":77.8,"v":4},{"c":"n2","t":77.9,"v":5},{"c":"n2","t":78,"v":6},{"c":"n2","t":78.1,"v":7.2},{"c":"n2","t":78.2,"v":8.5},{"c":"n2","t":78.3,"v":10.1},{"c":"n2","t":78.4,"v":11.9},{"c":"n2","t":78.5,"v":14},{"c":"n2","t":78.6,"v":16.3},{"c":"n2","t":78.7,"v":18.6},{"c":"n2","t":78.8,"v":20.4},{"c":"n2","t":78.9,"v":21.5},{"c":"n2","t":79,"v":22},{"c":"n2","t":79.1,"v":21.2},{"c":"n2","t":79.2,"v":19.4},{"c":"n2","t":79.3,"v":16.3},{"c":"n2","t":79.4,"v":12},{"c":"n2","t":79.5,"v":7},{"c":"n2","t":79.6,"v":2.2},{"c":"n2","t":79.7,"v":-1.3},{"c":"n2","t":79.8,"v":-2.2},{"c":"n2","t":79.9,"v":-1.9},{"c":"n2","t":80,"v":-1.5},{"c":"n2","t":80.1,"v":-0.8},{"c":"n2","t":80.2,"v":0.3},{"c":"n2","t":80.3,"v":-1.5},{"c":"n2","t":80.4,"v":0.4},{"c":"n2","t":80.5,"v":1.2},{"c":"n2","t":80.6,"v":1.9},
{"c":"n3","t":76.5,"v":-0.1},{"c":"n3","t":76.6,"v":0},{"c":"n3","t":76.7,"v":0.2},{"c":"n3","t":76.8,"v":0.1},{"c":"n3","t":76.9,"v":0.1},{"c":"n3","t":77,"v":0.2},{"c":"n3","t":77.1,"v":0.4},{"c":"n3","t":77.2,"v":0.6},{"c":"n3","t":77.3,"v":0.9},{"c":"n3","t":77.4,"v":1.2},{"c":"n3","t":77.5,"v":1.6},{"c":"n3","t":77.6,"v":2.2},{"c":"n3","t":77.7,"v":3},{"c":"n3","t":77.8,"v":3.9},{"c":"n3","t":77.9,"v":4.9},{"c":"n3","t":78,"v":6},{"c":"n3","t":78.1,"v":7.2},{"c":"n3","t":78.2,"v":8.5},{"c":"n3","t":78.3,"v":10.1},{"c":"n3","t":78.4,"v":11.9},{"c":"n3","t":78.5,"v":13.9},{"c":"n3","t":78.6,"v":16},{"c":"n3","t":78.7,"v":18},{"c":"n3","t":78.8,"v":19.4},{"c":"n3","t":78.9,"v":20.2},{"c":"n3","t":79,"v":20.4},{"c":"n3","t":79.1,"v":19.3},{"c":"n3","t":79.2,"v":17.3},{"c":"n3","t":79.3,"v":14.5},{"c":"n3","t":79.4,"v":10},{"c":"n3","t":79.5,"v":5},{"c":"n3","t":79.6,"v":0.5},{"c":"n3","t":79.7,"v":-1.7},{"c":"n3","t":79.8,"v":-2.1},{"c":"n3","t":79.9,"v":-2},{"c":"n3","t":80,"v":-1.6},{"c":"n3","t":80.1,"v":-0.8},{"c":"n3","t":80.2,"v":0.2},{"c":"n3","t":80.3,"v":-1.6},{"c":"n3","t":80.4,"v":0.3},{"c":"n3","t":80.5,"v":1},{"c":"n3","t":80.6,"v":1.7},
{"c":"v1","t":76.5,"v":0.2},{"c":"v1","t":76.6,"v":0},{"c":"v1","t":76.7,"v":0.2},{"c":"v1","t":76.8,"v":0.1},{"c":"v1","t":76.9,"v":0.2},{"c":"v1","t":77,"v":0.3},{"c":"v1","t":77.1,"v":0.5},{"c":"v1","t":77.2,"v":0.7},{"c":"v1","t":77.3,"v":1},{"c":"v1","t":77.4,"v":1.3},{"c":"v1","t":77.5,"v":1.8},{"c":"v1","t":77.6,"v":2.4},{"c":"v1","t":77.7,"v":3.2},{"c":"v1","t":77.8,"v":4.2},{"c":"v1","t":77.9,"v":5.2},{"c":"v1","t":78,"v":6.3},{"c":"v1","t":78.1,"v":7.5},{"c":"v1","t":78.2,"v":8.8},{"c":"v1","t":78.3,"v":10.5},{"c":"v1","t":78.4,"v":12.7},{"c":"v1","t":78.5,"v":15.1},{"c":"v1","t":78.6,"v":17.5},{"c":"v1","t":78.7,"v":19.8},{"c":"v1","t":78.8,"v":22},{"c":"v1","t":78.9,"v":23.4},{"c":"v1","t":79,"v":23.7},{"c":"v1","t":79.1,"v":22.9},{"c":"v1","t":79.2,"v":20.8},{"c":"v1","t":79.3,"v":17.8},{"c":"v1","t":79.4,"v":14.3},{"c":"v1","t":79.5,"v":10.4},{"c":"v1","t":79.6,"v":6.6},{"c":"v1","t":79.7,"v":2.8},{"c":"v1","t":79.8,"v":0},{"c":"v1","t":79.9,"v":-1.1},{"c":"v1","t":80,"v":-1.4},{"c":"v1","t":80.1,"v":-0.6},{"c":"v1","t":80.2,"v":0.4},{"c":"v1","t":80.3,"v":-1.4},{"c":"v1","t":80.4,"v":0.3},{"c":"v1","t":80.5,"v":1},{"c":"v1","t":80.6,"v":1.6},
{"c":"v2","t":76.5,"v":0.1},{"c":"v2","t":76.6,"v":0.1},{"c":"v2","t":76.7,"v":0.3},{"c":"v2","t":76.8,"v":0.1},{"c":"v2","t":76.9,"v":0.2},{"c":"v2","t":77,"v":0.3},{"c":"v2","t":77.1,"v":0.5},{"c":"v2","t":77.2,"v":0.7},{"c":"v2","t":77.3,"v":1},{"c":"v2","t":77.4,"v":1.3},{"c":"v2","t":77.5,"v":1.7},{"c":"v2","t":77.6,"v":2.3},{"c":"v2","t":77.7,"v":3.1},{"c":"v2","t":77.8,"v":4.1},{"c":"v2","t":77.9,"v":5.1},{"c":"v2","t":78,"v":6.2},{"c":"v2","t":78.1,"v":7.4},{"c":"v2","t":78.2,"v":8.7},{"c":"v2","t":78.3,"v":10.4},{"c":"v2","t":78.4,"v":12.5},{"c":"v2","t":78.5,"v":14.8},{"c":"v2","t":78.6,"v":17.2},{"c":"v2","t":78.7,"v":19.4},{"c":"v2","t":78.8,"v":21.6},{"c":"v2","t":78.9,"v":23},{"c":"v2","t":79,"v":23.3},{"c":"v2","t":79.1,"v":22.6},{"c":"v2","t":79.2,"v":20.6},{"c":"v2","t":79.3,"v":17.6},{"c":"v2","t":79.4,"v":14.1},{"c":"v2","t":79.5,"v":10.2},{"c":"v2","t":79.6,"v":6.4},{"c":"v2","t":79.7,"v":2.6},{"c":"v2","t":79.8,"v":-0.2},{"c":"v2","t":79.9,"v":-1.2},{"c":"v2","t":80,"v":-1.5},{"c":"v2","t":80.1,"v":-0.7},{"c":"v2","t":80.2,"v":0.3},{"c":"v2","t":80.3,"v":-1.5},{"c":"v2","t":80.4,"v":0.4},{"c":"v2","t":80.5,"v":1.1},{"c":"v2","t":80.6,"v":1.7},
{"c":"v3","t":76.5,"v":0.2},{"c":"v3","t":76.6,"v":0.1},{"c":"v3","t":76.7,"v":0.2},{"c":"v3","t":76.8,"v":0.1},{"c":"v3","t":76.9,"v":0.1},{"c":"v3","t":77,"v":0.3},{"c":"v3","t":77.1,"v":0.4},{"c":"v3","t":77.2,"v":0.7},{"c":"v3","t":77.3,"v":0.9},{"c":"v3","t":77.4,"v":1.3},{"c":"v3","t":77.5,"v":1.7},{"c":"v3","t":77.6,"v":2.3},{"c":"v3","t":77.7,"v":3.1},{"c":"v3","t":77.8,"v":4.1},{"c":"v3","t":77.9,"v":5.1},{"c":"v3","t":78,"v":6.1},{"c":"v3","t":78.1,"v":7.3},{"c":"v3","t":78.2,"v":8.6},{"c":"v3","t":78.3,"v":10.2},{"c":"v3","t":78.4,"v":12.1},{"c":"v3","t":78.5,"v":14.3},{"c":"v3","t":78.6,"v":16.7},{"c":"v3","t":78.7,"v":18.9},{"c":"v3","t":78.8,"v":20.8},{"c":"v3","t":78.9,"v":21.9},{"c":"v3","t":79,"v":22.3},{"c":"v3","t":79.1,"v":21.8},{"c":"v3","t":79.2,"v":20},{"c":"v3","t":79.3,"v":17.2},{"c":"v3","t":79.4,"v":13.9},{"c":"v3","t":79.5,"v":10.1},{"c":"v3","t":79.6,"v":6.3},{"c":"v3","t":79.7,"v":2.5},{"c":"v3","t":79.8,"v":-0.3},{"c":"v3","t":79.9,"v":-1.2},{"c":"v3","t":80,"v":-1.4},{"c":"v3","t":80.1,"v":-0.6},{"c":"v3","t":80.2,"v":0.4},{"c":"v3","t":80.3,"v":-1.4},{"c":"v3","t":80.4,"v":0.3},{"c":"v3","t":80.5,"v":1},{"c":"v3","t":80.6,"v":1.5},
{"c":"b1","t":76.5,"v":0},{"c":"b1","t":76.6,"v":0},{"c":"b1","t":76.7,"v":0},{"c":"b1","t":76.8,"v":0},{"c":"b1","t":76.9,"v":0},{"c":"b1","t":77,"v":0},{"c":"b1","t":77.1,"v":0},{"c":"b1","t":77.2,"v":0},{"c":"b1","t":77.3,"v":0},{"c":"b1","t":77.4,"v":0},{"c":"b1","t":77.5,"v":0},{"c":"b1","t":77.6,"v":0},{"c":"b1","t":77.7,"v":0},{"c":"b1","t":77.8,"v":0},{"c":"b1","t":77.9,"v":0},{"c":"b1","t":78,"v":0},{"c":"b1","t":78.1,"v":0},{"c":"b1","t":78.2,"v":0},{"c":"b1","t":78.3,"v":0},{"c":"b1","t":78.4,"v":0},{"c":"b1","t":78.5,"v":0},{"c":"b1","t":78.6,"v":0},{"c":"b1","t":78.7,"v":0},{"c":"b1","t":78.8,"v":0},{"c":"b1","t":78.9,"v":0},{"c":"b1","t":79,"v":0},{"c":"b1","t":79.1,"v":0},{"c":"b1","t":79.2,"v":0},{"c":"b1","t":79.3,"v":0},{"c":"b1","t":79.4,"v":0},{"c":"b1","t":79.5,"v":0},{"c":"b1","t":79.6,"v":0},{"c":"b1","t":79.7,"v":0},{"c":"b1","t":79.8,"v":0},{"c":"b1","t":79.9,"v":0},{"c":"b1","t":80,"v":0},{"c":"b1","t":80.1,"v":0},{"c":"b1","t":80.2,"v":0},{"c":"b1","t":80.3,"v":0},{"c":"b1","t":80.4,"v":0},{"c":"b1","t":80.5,"v":0},{"c":"b1","t":80.6,"v":0}
]
},
"layer": [
{
"data": {"name": "bands"},
"mark": {"type": "rect", "color": "#f4f4f4"},
"encoding": {
"x": {"datum": 76.33, "type": "quantitative", "title": "Temperature (°C)"},
"x2": {"datum": 80.81},
"y": {"field": "lo", "type": "quantitative", "title": "Normalized Fluorescence minus Reference"},
"y2": {"field": "hi"}
}
},
{
"data": {"name": "melt"},
"transform": [{"lookup": "c", "from": {"data": {"name": "curves"}, "key": "c", "fields": ["g"]}}],
"mark": {"type": "line", "strokeWidth": 1.3, "strokeOpacity": 0.72},
"encoding": {
"x": {"field": "t", "type": "quantitative",
"scale": {"domain": [76.1073, 80.8333], "nice": false, "zero": false},
"axis": {"orient": "bottom", "offset": -38, "tickCount": 1000,
"values": [76.4,76.5,76.6,76.7,76.8,76.9,77,77.1,77.2,77.3,77.4,77.5,77.6,77.7,77.8,77.9,78,78.1,78.2,78.3,78.4,78.5,78.6,78.7,78.8,78.9,79,79.1,79.2,79.3,79.4,79.5,79.6,79.7,79.8,79.9,80,80.1,80.2,80.3,80.4,80.5,80.6,80.7,80.8],
"labelExpr": "abs(datum.value*2 - round(datum.value*2)) < 0.001 ? replace(format(datum.value, '.1f'), '.', ',') : ''",
"labelFont": "Open Sans", "labelFontSize": 11.5, "labelColor": "#555555", "labelPadding": 9,
"labelOverlap": false, "labelFlush": false,
"tickSize": -5, "tickColor": "#c8c8c8", "tickWidth": 1,
"domain": false,
"grid": true, "gridColor": "#ececec",
"gridOpacity": {"condition": {"test": "abs(datum.value*2 - round(datum.value*2)) < 0.001", "value": 1}, "value": 0},
"title": "Temperature (°C)", "titleFont": "Open Sans", "titleFontSize": 11, "titleFontWeight": "normal", "titleColor": "#333333",
"titleX": 538, "titleY": 29, "titleBaseline": "middle", "titleAlign": "center"}},
"y": {"field": "v", "type": "quantitative",
"scale": {"domain": [-31.72, 25.86], "nice": false, "zero": false},
"axis": {"orient": "left", "offset": -48, "tickCount": 1000,
"values": [-28,-27,-26,-25,-24,-23,-22,-21,-20,-19,-18,-17,-16,-15,-14,-13,-12,-11,-10,-9,-8,-7,-6,-5,-4,-3,-2,-1,0,1,2,3,4,5,6,7,8,9,10,11,12,13,14,15,16,17,18,19,20,21,22,23,24,25],
"labelExpr": "datum.value % 5 == 0 ? '' + datum.value : ''",
"labelFont": "Open Sans", "labelFontSize": 11.5, "labelColor": "#555555", "labelPadding": 16,
"labelOverlap": false, "labelFlush": false,
"tickSize": -5, "tickColor": "#c8c8c8",
"domain": false, "grid": false,
"title": "Normalized Fluorescence minus Reference", "titleFont": "Open Sans", "titleFontSize": 11, "titleFontWeight": "normal", "titleColor": "#333333",
"titleAngle": -90, "titleX": -32, "titleY": 291, "titleBaseline": "bottom", "titleAlign": "center"}},
"color": {"field": "g", "type": "nominal",
"scale": {"domain": ["Clone 5","Clone 6","Clone 11","Clone 16","Clone 18","Clone 20","Vacina Ma5"],
"range": ["#0000ff","#00ee00","#a0002a","#ff00ff","#f4f400","#6b3300","#006400"]},
"legend": {"orient": "none", "legendX": 898, "legendY": 329, "title": null,
"symbolType": "M-1,-0.75Q-1,-1,-0.75,-1L0.75,-1Q1,-1,1,-0.75L1,0.75Q1,1,0.75,1L-0.75,1Q-1,1,-1,0.75Z",
"symbolSize": 484, "symbolStrokeWidth": 1, "symbolOpacity": 1,
"labelFont": "Liberation Sans", "labelFontWeight": "bold", "labelFontSize": 14.5, "labelColor": "#111111", "labelOffset": 7,
"rowPadding": 10.5, "padding": 10, "fillColor": "white",
"encode": {"symbols": {"update": {"fill": {"scale": "color", "field": "value"}, "stroke": {"value": "#555555"}, "strokeOpacity": {"value": 0.6}, "opacity": {"value": 1}, "fillOpacity": {"value": 1}}}}}},
"detail": {"field": "c"}
}
}
]
}
